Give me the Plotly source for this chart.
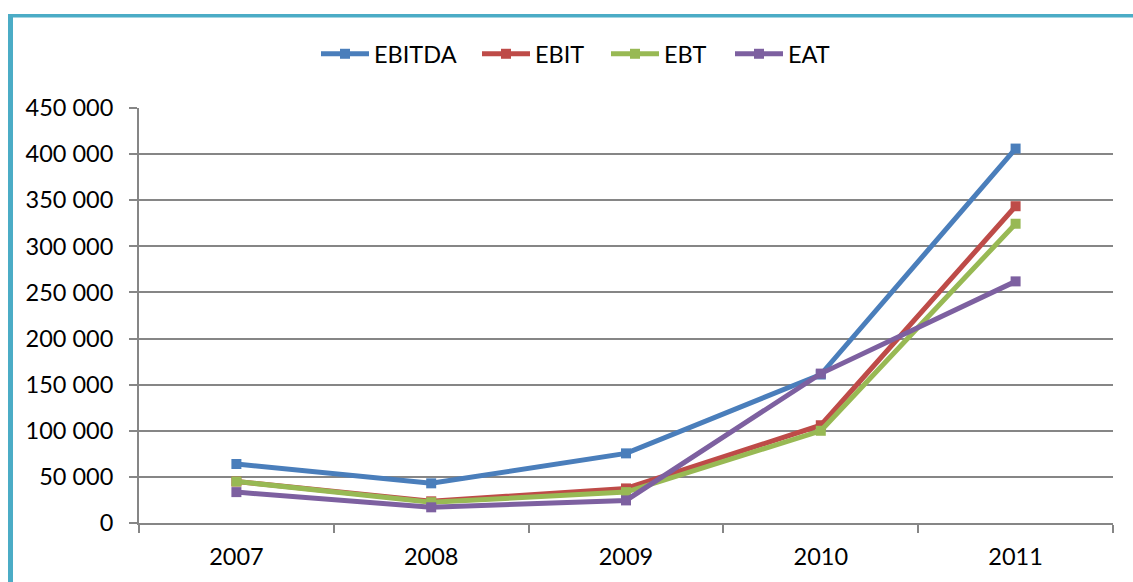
import plotly.graph_objects as go

years = ["2007", "2008", "2009", "2010", "2011"]
ebitda = [64000, 43000, 75500, 161000, 406000]
ebit = [45000, 23500, 37500, 106000, 343500]
ebt = [45000, 22500, 33500, 100000, 324500]
eat = [33500, 17000, 24500, 162000, 262000]

series = [
    ("EBITDA", ebitda, "#4A7EBB"),
    ("EBIT", ebit, "#BE4B48"),
    ("EBT", ebt, "#98B954"),
    ("EAT", eat, "#7D60A0"),
]
# left edge (px) of each legend entry
legend_left = [316, 477, 606, 730]

W, H = 1133, 582
L, R, T, B = 139, 20, 108, 59
pw, ph = W - L - R, H - T - B


def px_x(p):
    return (p - L) / pw


def px_y(p):
    return (H - B - p) / ph


font = "Lato, 'Open Sans', sans-serif"
fsize = 23.5

fig = go.Figure()
legend_layout = {}
for i, (name, vals, color) in enumerate(series):
    key = "legend" if i == 0 else f"legend{i + 1}"
    fig.add_trace(go.Scatter(
        x=years, y=vals, name=name, mode="lines+markers",
        line=dict(color=color, width=5),
        marker=dict(symbol="square", size=10, color=color),
        legend=key,
    ))
    legend_layout[key] = dict(
        orientation="h", x=px_x(legend_left[i]), xanchor="left",
        y=px_y(54), yanchor="middle", itemwidth=48,
        font=dict(family=font, size=fsize, color="#000000"),
        bgcolor="rgba(0,0,0,0)", borderwidth=0,
    )

# teal frame on the left and top edges
fig.add_shape(type="rect", xref="paper", yref="paper",
              x0=px_x(8), x1=px_x(13), y0=px_y(582), y1=px_y(14),
              fillcolor="#4BACC6", line=dict(width=0), layer="above")
fig.add_shape(type="rect", xref="paper", yref="paper",
              x0=px_x(8), x1=px_x(1140), y0=px_y(17.5), y1=px_y(14),
              fillcolor="#4BACC6", line=dict(width=0), layer="above")

fig.update_layout(
    width=W, height=H,
    margin=dict(l=L, r=R, t=T, b=B, pad=0),
    paper_bgcolor="white", plot_bgcolor="white",
    separators=", ",
    font=dict(family=font, size=fsize, color="#000000"),
    showlegend=True,
    **legend_layout,
)

fig.update_xaxes(
    type="category", range=[-0.5, 4.5],
    showline=True, linecolor="#868686", linewidth=2,
    showgrid=False, ticks="outside", tickson="boundaries",
    ticklen=8, tickwidth=2, tickcolor="#868686",
    ticklabelstandoff=12,
    tickfont=dict(family=font, size=fsize, color="#000000"),
    zeroline=False,
)
fig.update_yaxes(
    range=[0, 450000], dtick=50000, tickformat=",d",
    showline=True, linecolor="#868686", linewidth=2,
    showgrid=True, gridcolor="#868686", gridwidth=1.5,
    ticks="outside", ticklen=8, tickwidth=2, tickcolor="#868686",
    ticklabelstandoff=11,
    tickfont=dict(family=font, size=fsize, color="#000000"),
    zeroline=False,
)

fig.write_html("out.html")
